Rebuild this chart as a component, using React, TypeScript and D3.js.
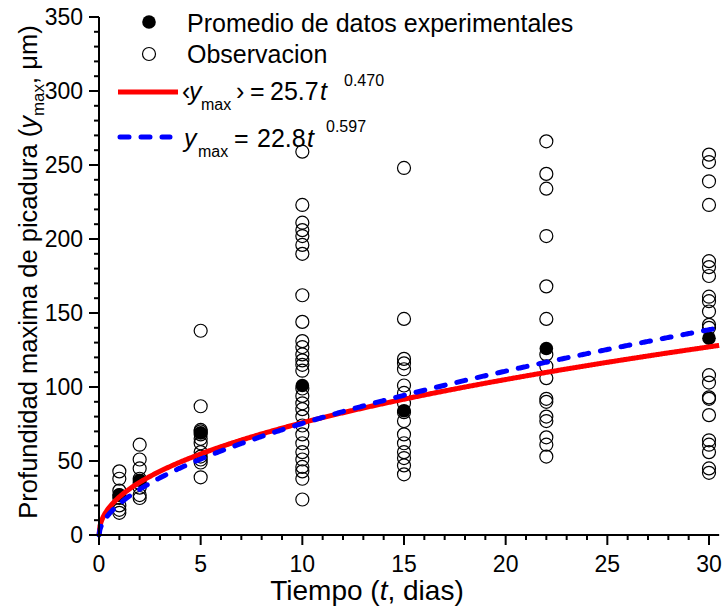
import { useMemo } from "react";
import * as d3 from "d3";

const W = 725;
const H = 609;

// observaciones por dia
const days = [1, 2, 5, 10, 15, 22, 30];
const obsDay1 = [43, 38, 30, 27, 25, 20, 17, 15];
const obsDay2 = [61, 51, 45, 38, 35, 32, 27, 25];
const obsDay5 = [138, 87, 71, 70, 68, 65, 62, 56, 53, 51, 49, 39];
const obsDay10 = [259, 223, 211, 206, 202, 196, 190, 162, 144, 131, 127, 122, 118, 115, 111, 99, 94, 89, 85, 80, 74, 68, 62, 56, 51, 46, 43, 38, 24];
const obsDay15 = [248, 146, 119, 116, 112, 101, 96, 89, 83, 77, 68, 62, 56, 52, 47, 41];
const obsDay22 = [266, 244, 234, 202, 168, 146, 122, 114, 106, 92, 90, 80, 77, 66, 61, 53];
const obsDay30 = [257, 252, 239, 223, 185, 181, 175, 161, 158, 151, 142, 140, 108, 103, 93, 92, 81, 64, 61, 56, 45, 42];
const observations = [obsDay1, obsDay2, obsDay5, obsDay10, obsDay15, obsDay22, obsDay30];

// promedio experimental
const means = [27, 37, 69, 101, 84, 126, 133];

// ajustes (coeficiente, exponente)
const fitMean = [25.7, 0.47];
const fitMax = [21.0, 0.555];

const xTicks = [0, 5, 10, 15, 20, 25, 30];
const yTicks = [0, 50, 100, 150, 200, 250, 300, 350];

const FONT = "'Liberation Sans', Arial, sans-serif";

export default function App() {
  const x = d3.scaleLinear().domain([0, 30.5]).range([99, 99 + 30.5 * (610 / 30)]);
  const y = d3.scaleLinear().domain([0, 350]).range([535, 17]);

  const ts = useMemo(() => d3.range(0, 30.5001, 0.05), []);
  const line = d3
    .line<number[]>()
    .x((d) => x(d[0]))
    .y((d) => y(d[1]));

  const redPath = line(ts.map((t) => [t, fitMean[0] * Math.pow(t, fitMean[1])]));
  const bluePath = line(ts.map((t) => [t, fitMax[0] * Math.pow(t, fitMax[1])]));

  const xMinor = d3.range(0, 31, 1);
  const yMinor = d3.range(0, 351, 10);

  return (
    <svg width={W} height={H} style={{ position: "absolute", left: 0, top: 0, background: "#fff" }} fontFamily={FONT}>
      {/* observaciones */}
      {observations.map((vals, i) =>
        vals.map((v, j) => (
          <circle key={`o${i}-${j}`} cx={x(days[i])} cy={y(v)} r={6.5} fill="none" stroke="#000" strokeWidth={1.2} />
        ))
      )}
      {means.map((v, i) => (
        <circle key={`m${i}`} cx={x(days[i])} cy={y(v)} r={6.8} fill="#000" />
      ))}

      <path d={redPath ?? ""} fill="none" stroke="#ff0000" strokeWidth={5} />
      <path d={bluePath ?? ""} fill="none" stroke="#0000ff" strokeWidth={5} strokeDasharray="9,12" strokeLinecap="round" />

      {/* ejes */}
      <line x1={x(0)} x2={x(30.5)} y1={y(0)} y2={y(0)} stroke="#000" strokeWidth={2} />
      <line x1={x(0)} x2={x(0)} y1={y(0)} y2={y(350)} stroke="#000" strokeWidth={2} />
      {xMinor.map((t) => (
        <line key={`xt${t}`} x1={x(t)} x2={x(t)} y1={y(0)} y2={y(0) + (t % 5 === 0 ? 10 : 5)} stroke="#000" strokeWidth={2} />
      ))}
      {yMinor.map((v) => (
        <line key={`yt${v}`} x1={x(0)} x2={x(0) - (v % 50 === 0 ? 10 : 5)} y1={y(v)} y2={y(v)} stroke="#000" strokeWidth={2} />
      ))}
      {xTicks.map((t) => (
        <text key={`xl${t}`} x={x(t)} y={572} textAnchor="middle" fontSize={23}>
          {t}
        </text>
      ))}
      {yTicks.map((v) => (
        <text key={`yl${v}`} x={83} y={y(v) + 8.3} textAnchor="end" fontSize={23}>
          {v}
        </text>
      ))}

      {/* titulos */}
      <text x={367} y={600} textAnchor="middle" fontSize={28}>
        Tiempo (<tspan fontStyle="italic">t</tspan>, dias)
      </text>
      <text transform="translate(37,272) rotate(-90)" textAnchor="middle" fontSize={25.5}>
        Profundidad maxima de picadura (<tspan fontStyle="italic">y</tspan>
        <tspan fontSize={17} dy={7}>max</tspan>
        <tspan dy={-7}>, μm)</tspan>
      </text>

      {/* leyenda */}
      <circle cx={149} cy={22} r={6.8} fill="#000" />
      <text x={187} y={31.7} fontSize={25}>
        Promedio de datos experimentales
      </text>
      <circle cx={149} cy={54} r={6.5} fill="none" stroke="#000" strokeWidth={1.2} />
      <text x={187} y={63.3} fontSize={25}>
        Observacion
      </text>

      <line x1={118} x2={178} y1={92} y2={92} stroke="#ff0000" strokeWidth={5} />
      <text y={100} fontSize={25}>
        <tspan x={182}>‹</tspan>
        <tspan x={189} fontStyle="italic">y</tspan>
        <tspan fontSize={16} dy={10} x={201}>max</tspan>
        <tspan dy={-10} x={236}>›</tspan>
        <tspan x={250}>=</tspan>
        <tspan x={270}>25.7</tspan>
        <tspan fontStyle="italic" x={320}>t</tspan>
        <tspan fontSize={16} dy={-14} x={344}>0.470</tspan>
      </text>

      <line x1={120} x2={170} y1={137} y2={137} stroke="#0000ff" strokeWidth={5} strokeDasharray="9,12" strokeLinecap="round" />
      <text y={146.7} fontSize={25}>
        <tspan x={184} fontStyle="italic">y</tspan>
        <tspan fontSize={16} dy={10} x={198}>max</tspan>
        <tspan dy={-10} x={234}>=</tspan>
        <tspan x={257}>22.8</tspan>
        <tspan fontStyle="italic" x={307}>t</tspan>
        <tspan fontSize={16} dy={-15} x={326}>0.597</tspan>
      </text>
    </svg>
  );
}
